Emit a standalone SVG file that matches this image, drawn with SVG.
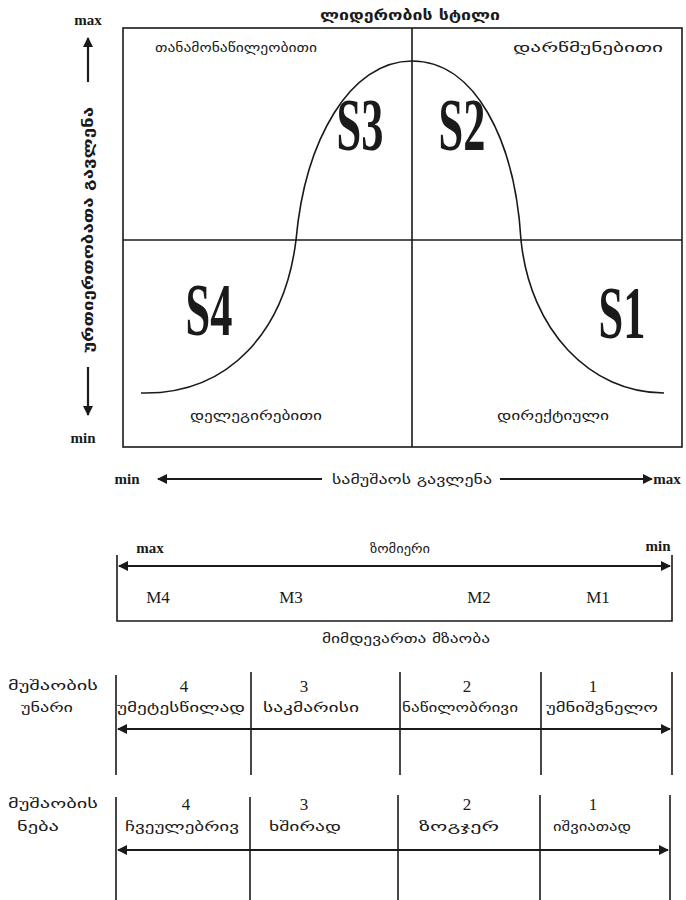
<svg xmlns="http://www.w3.org/2000/svg" width="686" height="900" viewBox="0 0 686 900">
<defs>
<marker id="ah" viewBox="0 0 10 10" refX="9" refY="5" markerWidth="12" markerHeight="10" markerUnits="userSpaceOnUse" orient="auto-start-reverse">
<path d="M0,0 L10,5 L0,10 Z" fill="#1a1a1a"/>
</marker>
<style>
.geo{font-family:"DejaVu Sans",sans-serif;font-size:13px;fill:#1a1a1a;text-anchor:middle}
.geob{font-family:"DejaVu Sans",sans-serif;font-size:14px;font-weight:bold;fill:#1a1a1a;text-anchor:middle}
.lat{font-family:"Liberation Serif",serif;font-size:15px;font-weight:bold;fill:#1a1a1a;text-anchor:middle}
.big{font-family:"Liberation Serif",serif;font-size:74px;font-weight:bold;fill:#1a1a1a;text-anchor:middle}
.num{font-family:"Liberation Serif",serif;font-size:17px;fill:#1a1a1a;text-anchor:middle}
.ln{stroke:#1a1a1a;stroke-width:1.6;fill:none}
.ar{stroke:#1a1a1a;stroke-width:2.2;fill:none}
</style>
</defs>
<rect width="686" height="900" fill="#ffffff"/>

<g id="title"><text class="geob" x="410" y="20" textLength="180" lengthAdjust="spacingAndGlyphs">ლიდერობის სტილი</text></g>

<g id="quadrant-box">
<rect class="ln" x="123" y="28" width="559" height="419" stroke-width="2"/>
<line class="ln" x1="412" y1="28" x2="412" y2="447"/>
<line class="ln" x1="123" y1="240" x2="682" y2="240"/>
</g>

<g id="curve"><path class="ln" stroke-width="2.4" d="M141,393 C230,395 285,330 296,240 C305,140 350,61 412,61 C475,61 515,140 521,240 C530,330 590,393 664,393"/></g>

<g id="q-labels">
<text class="geo" x="236" y="52" textLength="162" lengthAdjust="spacingAndGlyphs">თანამონაწილეობითი</text>
<text class="geo" x="588" y="52" textLength="150" lengthAdjust="spacingAndGlyphs">დარწმუნებითი</text>
<text class="geo" x="256" y="420" textLength="132" lengthAdjust="spacingAndGlyphs">დელეგირებითი</text>
<text class="geo" x="553" y="420" textLength="112" lengthAdjust="spacingAndGlyphs">დირექტიული</text>
</g>

<g id="s-labels">
<text class="big" transform="translate(360,150) scale(0.6,1)">S3</text>
<text class="big" transform="translate(462,150) scale(0.6,1)">S2</text>
<text class="big" transform="translate(209,335) scale(0.6,1)">S4</text>
<text class="big" transform="translate(622,338) scale(0.6,1)">S1</text>
</g>

<g id="y-axis">
<text class="lat" x="88" y="25">max</text>
<text class="lat" x="83" y="443">min</text>
<line class="ar" x1="88" y1="82" x2="88" y2="38" marker-end="url(#ah)"/>
<line class="ar" x1="88" y1="367" x2="88" y2="415" marker-end="url(#ah)"/>
<text class="geob" transform="translate(93,230) rotate(-90)" textLength="246" lengthAdjust="spacingAndGlyphs">ურთიერთობათა გავლენა</text>
</g>

<g id="x-axis">
<text class="lat" x="127" y="484">min</text>
<line class="ar" x1="322" y1="479" x2="158" y2="479" marker-end="url(#ah)"/>
<text class="geo" x="412" y="484" textLength="160" lengthAdjust="spacingAndGlyphs">სამუშაოს გავლენა</text>
<line class="ar" x1="500" y1="479" x2="652" y2="479" marker-end="url(#ah)"/>
<text class="lat" x="667" y="484">max</text>
</g>

<g id="scale">
<path class="ln" d="M117,555 V621 H672 V555"/>
<line class="ar" x1="119" y1="566" x2="670" y2="566" marker-start="url(#ah)" marker-end="url(#ah)"/>
<text class="lat" x="150" y="553">max</text>
<text class="geo" x="400" y="553" textLength="60" lengthAdjust="spacingAndGlyphs">ზომიერი</text>
<text class="lat" x="658" y="551">min</text>
<text class="num" x="158" y="603">M4</text>
<text class="num" x="291" y="603">M3</text>
<text class="num" x="479" y="603">M2</text>
<text class="num" x="598" y="603">M1</text>
</g>

<g id="readiness"><text class="geo" x="406" y="643" textLength="168" lengthAdjust="spacingAndGlyphs">მიმდევართა მზაობა</text></g>

<g id="ability">
<text class="geo" x="53" y="690" textLength="90" lengthAdjust="spacingAndGlyphs">მუშაობის</text>
<text class="geo" x="47" y="712" textLength="52" lengthAdjust="spacingAndGlyphs">უნარი</text>
<g class="ln">
<line x1="116" y1="675" x2="116" y2="775"/>
<line x1="251" y1="672" x2="251" y2="775"/>
<line x1="400" y1="672" x2="400" y2="775"/>
<line x1="541" y1="672" x2="541" y2="775"/>
<line x1="672" y1="672" x2="672" y2="775"/>
</g>
<line class="ar" x1="118" y1="729" x2="670" y2="729" marker-start="url(#ah)" marker-end="url(#ah)"/>
<text class="num" x="184" y="692">4</text>
<text class="num" x="304" y="692">3</text>
<text class="num" x="467" y="692">2</text>
<text class="num" x="593" y="692">1</text>
<text class="geo" x="181" y="712" textLength="128" lengthAdjust="spacingAndGlyphs">უმეტესწილად</text>
<text class="geo" x="311" y="712" textLength="96" lengthAdjust="spacingAndGlyphs">საკმარისი</text>
<text class="geo" x="460" y="712" textLength="116" lengthAdjust="spacingAndGlyphs">ნაწილობრივი</text>
<text class="geo" x="602" y="712" textLength="112" lengthAdjust="spacingAndGlyphs">უმნიშვნელო</text>
</g>

<g id="willingness">
<text class="geo" x="53" y="808" textLength="90" lengthAdjust="spacingAndGlyphs">მუშაობის</text>
<text class="geo" x="38" y="831" textLength="42" lengthAdjust="spacingAndGlyphs">ნება</text>
<g class="ln">
<line x1="116" y1="797" x2="116" y2="900"/>
<line x1="250" y1="797" x2="250" y2="900"/>
<line x1="398" y1="795" x2="398" y2="900"/>
<line x1="540" y1="795" x2="540" y2="900"/>
<line x1="670" y1="795" x2="670" y2="900"/>
</g>
<line class="ar" x1="118" y1="850" x2="668" y2="850" marker-start="url(#ah)" marker-end="url(#ah)"/>
<text class="num" x="186" y="810">4</text>
<text class="num" x="304" y="810">3</text>
<text class="num" x="467" y="810">2</text>
<text class="num" x="593" y="810">1</text>
<text class="geo" x="182" y="831" textLength="114" lengthAdjust="spacingAndGlyphs">ჩვეულებრივ</text>
<text class="geo" x="305" y="831" textLength="72" lengthAdjust="spacingAndGlyphs">ხშირად</text>
<text class="geo" x="459" y="831" textLength="80" lengthAdjust="spacingAndGlyphs">ზოგჯერ</text>
<text class="geo" x="592" y="831" textLength="78" lengthAdjust="spacingAndGlyphs">იშვიათად</text>
</g>
</svg>
